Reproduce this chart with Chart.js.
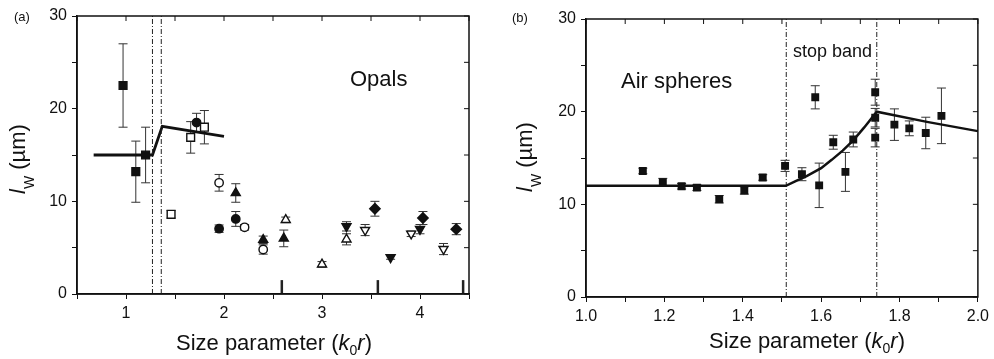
<!DOCTYPE html>
<html>
<head>
<meta charset="utf-8">
<script src="https://cdn.jsdelivr.net/npm/chart.js@4"></script>
<style>
body{margin:0;background:#fff;}
#wrap{position:relative;width:994px;height:359px;}
canvas{position:absolute;top:0;}
</style>
</head>
<body>
<div id="wrap">
<canvas id="chartA" width="497" height="359" style="left:0"></canvas>
<canvas id="chartB" width="497" height="359" style="left:497px"></canvas>
</div>
<script>
var FONT = '"Liberation Sans", Arial, sans-serif';

// ---- panel (a) : opals ----
var sqFilledX = [0.97, 1.10, 1.20];
var sqFilledY = [22.5, 13.2, 15.0];
var sqFilledErr = [4.5, 3.3, 3.0];

var sqOpenX = [1.46, 1.66, 1.80];
var sqOpenY = [8.6, 16.9, 18.0];
var sqOpenErr = [0.4, 1.7, 1.8];

var ciFilledX = [1.72, 1.95, 2.12];
var ciFilledY = [18.5, 7.05, 8.1];
var ciFilledErr = [1.0, 0.4, 0.8];

var ciOpenX = [1.95, 2.21, 2.40];
var ciOpenY = [12.0, 7.2, 4.8];
var ciOpenErr = [0.9, 0.3, 0.5];

var trFilledX = [2.12, 2.40, 2.61];
var trFilledY = [10.9, 5.85, 6.0];
var trFilledErr = [1.0, 0.4, 0.9];

var trOpenX = [2.63, 3.00, 3.25];
var trOpenY = [8.0, 3.2, 5.9];
var trOpenErr = [0.3, 0.3, 0.6];

var dnFilledX = [3.25, 3.70, 4.00];
var dnFilledY = [7.3, 3.95, 7.0];
var dnFilledErr = [0.5, 0.2, 0.5];

var dnOpenX = [3.44, 3.91, 4.24];
var dnOpenY = [6.9, 6.5, 4.85];
var dnOpenErr = [0.6, 0.3, 0.6];

var diFilledX = [3.54, 4.03, 4.37];
var diFilledY = [9.2, 8.2, 7.0];
var diFilledErr = [0.8, 0.7, 0.6];

var modelAX = [0.67, 1.27, 1.37, 2.0];
var modelAY = [15.0, 15.0, 18.1, 17.0];
var bandAX = [1.27, 1.36];
var markAX = [2.59, 3.57, 4.44];
var markAH = 1.5;

// ---- panel (b) : air spheres ----
var airX = [1.145, 1.196, 1.244, 1.283, 1.34, 1.404, 1.451, 1.508, 1.551, 1.585, 1.595,
            1.631, 1.662, 1.682, 1.738, 1.738, 1.738, 1.787, 1.825, 1.867, 1.907];
var airY = [13.6, 12.4, 11.95, 11.8, 10.55, 11.5, 12.9, 14.15, 13.25, 21.55, 12.05,
            16.7, 13.5, 17.0, 22.1, 19.35, 17.2, 18.6, 18.2, 17.7, 19.55];
var airErr = [0.3, 0.4, 0.3, 0.3, 0.4, 0.4, 0.3, 0.6, 0.7, 1.25, 2.4,
              0.75, 2.1, 0.8, 1.4, 1.0, 1.0, 1.7, 0.8, 1.7, 3.0];

var modelBX = [1.0, 1.51, 1.535, 1.563, 1.60, 1.627, 1.655, 1.682, 1.71, 1.742, 1.87, 2.0];
var modelBY = [12.0, 12.0, 12.5, 13.05, 13.9, 14.8, 15.8, 16.9, 18.3, 20.0, 18.9, 17.9];
var bandBX = [1.511, 1.742];

var yTicksMajor = [0, 10, 20, 30];

function pts(xs, ys){
    return xs.map(function(v, i){ return {x: v, y: ys[i]}; });
}

function markers(xs, ys, errs, style, filled, r, rot){
    return {
        data: pts(xs, ys),
        err: errs,
        pointStyle: style,
        rotation: rot || 0,
        pointRadius: r,
        backgroundColor: filled ? '#111' : '#fff',
        borderColor: '#111',
        borderWidth: 1.4,
        showLine: false
    };
}

function vline(x, y0, y1, w, dash){
    return {
        data: [{x: x, y: y0}, {x: x, y: y1}],
        showLine: true, pointRadius: 0,
        borderColor: '#222', borderWidth: w,
        borderDash: dash || [],
        fill: false
    };
}

// error bars drawn through the y scale
var errPlugin = {
    id: 'errbars',
    beforeDatasetsDraw: function(chart){
        var ctx = chart.ctx, ys = chart.scales.y;
        ctx.save();
        ctx.strokeStyle = '#333';
        ctx.lineWidth = 1;
        chart.data.datasets.forEach(function(ds, i){
            if(!ds.err) return;
            var meta = chart.getDatasetMeta(i);
            meta.data.forEach(function(p, j){
                var v = ds.data[j].y, e = ds.err[j];
                var top = ys.getPixelForValue(v + e), bot = ys.getPixelForValue(v - e);
                ctx.beginPath();
                ctx.moveTo(p.x, top); ctx.lineTo(p.x, bot);
                ctx.moveTo(p.x - 4.5, top); ctx.lineTo(p.x + 4.5, top);
                ctx.moveTo(p.x - 4.5, bot); ctx.lineTo(p.x + 4.5, bot);
                ctx.stroke();
            });
        });
        ctx.restore();
    }
};

// box + inward ticks on top and right
var framePlugin = {
    id: 'frame',
    afterDraw: function(chart){
        var ctx = chart.ctx, a = chart.chartArea;
        var xs = chart.scales.x, ys = chart.scales.y;
        ctx.save();
        ctx.strokeStyle = '#111';
        ctx.lineWidth = 1.5;
        ctx.strokeRect(a.left, a.top, a.right - a.left, a.bottom - a.top);
        ctx.lineWidth = 1;
        ctx.beginPath();
        xs.ticks.forEach(function(t){
            var px = xs.getPixelForValue(t.value);
            ctx.moveTo(px, a.top); ctx.lineTo(px, a.top + 5);
        });
        ys.ticks.forEach(function(t){
            var py = ys.getPixelForValue(t.value);
            ctx.moveTo(a.right, py); ctx.lineTo(a.right - 5, py);
        });
        ctx.stroke();
        ctx.restore();
    }
};

function richWidth(ctx, parts){
    var w = 0;
    parts.forEach(function(p){ ctx.font = p.f; w += ctx.measureText(p.t).width; });
    return w;
}
function drawRich(ctx, parts, x, y){
    parts.forEach(function(p){
        ctx.font = p.f;
        ctx.fillText(p.t, x, y + (p.dy || 0));
        x += ctx.measureText(p.t).width;
    });
}

var textPlugin = {
    id: 'texts',
    afterDraw: function(chart, args, opts){
        var ctx = chart.ctx;
        ctx.save();
        ctx.fillStyle = '#111';
        ctx.textBaseline = 'alphabetic';
        // x title
        var xt = [
            {t: 'Size parameter (', f: '22px ' + FONT},
            {t: 'k', f: 'italic 22px ' + FONT},
            {t: '0', f: '14px ' + FONT, dy: 5},
            {t: 'r', f: 'italic 22px ' + FONT},
            {t: ')', f: '22px ' + FONT}
        ];
        var w = richWidth(ctx, xt);
        drawRich(ctx, xt, opts.xTitle[0] - w / 2, opts.xTitle[1]);
        // y title, rotated
        var yt = [
            {t: 'l', f: 'italic 22px ' + FONT},
            {t: 'W', f: '14px ' + FONT, dy: 9},
            {t: ' (\u00b5m)', f: '22px ' + FONT}
        ];
        var wy = richWidth(ctx, yt);
        ctx.save();
        ctx.translate(opts.yTitle[0], opts.yTitle[1]);
        ctx.rotate(-Math.PI / 2);
        drawRich(ctx, yt, -wy / 2, 0);
        ctx.restore();
        // other labels
        opts.notes.forEach(function(n){
            ctx.font = n.f;
            ctx.textBaseline = 'middle';
            ctx.fillText(n.t, n.x, n.y);
        });
        ctx.restore();
    }
};

function axisX(min, max, step, cb, h){
    return {
        type: 'linear', min: min, max: max,
        ticks: {stepSize: step, autoSkip: false, maxRotation: 0, padding: 5,
                color: '#111', font: {family: FONT, size: 16}, callback: cb},
        grid: {display: true, drawOnChartArea: false, drawTicks: true, tickLength: 5, color: '#111'},
        border: {display: true, color: '#111', width: 1.5},
        afterFit: function(s){ s.height = h; }
    };
}
function axisY(w){
    return {
        type: 'linear', min: 0, max: 30,
        ticks: {stepSize: 5, autoSkip: false, padding: 5, color: '#111',
                font: {family: FONT, size: 16},
                callback: function(v){ return yTicksMajor.indexOf(v) >= 0 ? v : ''; }},
        grid: {display: true, drawOnChartArea: false, drawTicks: true, tickLength: 5, color: '#111'},
        border: {display: true, color: '#111', width: 1.5},
        afterFit: function(s){ s.width = w; }
    };
}

// ---- chart (a) ----
var dsA = [
    markers(sqFilledX, sqFilledY, sqFilledErr, 'rect', true, 5.5),
    markers(sqOpenX, sqOpenY, sqOpenErr, 'rect', false, 5.5),
    markers(ciFilledX, ciFilledY, ciFilledErr, 'circle', true, 4.2),
    markers(ciOpenX, ciOpenY, ciOpenErr, 'circle', false, 4.2),
    markers(trFilledX, trFilledY, trFilledErr, 'triangle', true, 5.2),
    markers(trOpenX, trOpenY, trOpenErr, 'triangle', false, 5.2),
    markers(dnFilledX, dnFilledY, dnFilledErr, 'triangle', true, 5.2, 180),
    markers(dnOpenX, dnOpenY, dnOpenErr, 'triangle', false, 5.2, 180),
    markers(diFilledX, diFilledY, diFilledErr, 'rectRot', true, 5.2)
];
dsA.unshift({data: pts(modelAX, modelAY), showLine: true, pointRadius: 0,
             borderColor: '#111', borderWidth: 2.8, fill: false});
bandAX.forEach(function(v){ dsA.unshift(vline(v, 0, 30, 1, [5, 2, 1, 2])); });
markAX.forEach(function(v){ dsA.unshift(vline(v, 0, markAH, 2.5)); });

new Chart(document.getElementById('chartA'), {
    type: 'scatter',
    data: {datasets: dsA},
    options: {
        responsive: false, animation: false,
        layout: {padding: {top: 16, right: 28, left: 0, bottom: 0}},
        scales: {
            x: axisX(0.5, 4.5, 0.5, function(v){ return Number.isInteger(v) ? v : ''; }, 65),
            y: axisY(77)
        },
        plugins: {
            legend: {display: false}, tooltip: {enabled: false},
            texts: {
                xTitle: [274, 350], yTitle: [25, 159],
                notes: [
                    {t: '(a)', f: '13px ' + FONT, x: 14, y: 17},
                    {t: 'Opals', f: '22px ' + FONT, x: 350, y: 80}
                ]
            }
        }
    },
    plugins: [errPlugin, framePlugin, textPlugin]
});

// ---- chart (b) ----
var dsB = [
    markers(airX, airY, airErr, 'rect', true, 4.6),
    {data: pts(modelBX, modelBY), showLine: true, pointRadius: 0,
     borderColor: '#111', borderWidth: 2.5, fill: false}
];
bandBX.forEach(function(v){ dsB.push(vline(v, 0, 30, 1, [5, 2, 1, 2])); });

new Chart(document.getElementById('chartB'), {
    type: 'scatter',
    data: {datasets: dsB},
    options: {
        responsive: false, animation: false,
        layout: {padding: {top: 19, right: 16, left: 0, bottom: 0}},
        scales: {
            x: axisX(1.0, 2.0, 0.1, function(v){
                var r = Math.round(v * 10);
                return r % 2 === 0 ? (r / 10).toFixed(1) : '';
            }, 62),
            y: axisY(89)
        },
        plugins: {
            legend: {display: false}, tooltip: {enabled: false},
            texts: {
                xTitle: [310, 348], yTitle: [35, 157],
                notes: [
                    {t: '(b)', f: '13px ' + FONT, x: 15, y: 18},
                    {t: 'Air spheres', f: '22px ' + FONT, x: 124, y: 82},
                    {t: 'stop band', f: '18px ' + FONT, x: 296, y: 52}
                ]
            }
        }
    },
    plugins: [errPlugin, framePlugin, textPlugin]
});
</script>
</body>
</html>
